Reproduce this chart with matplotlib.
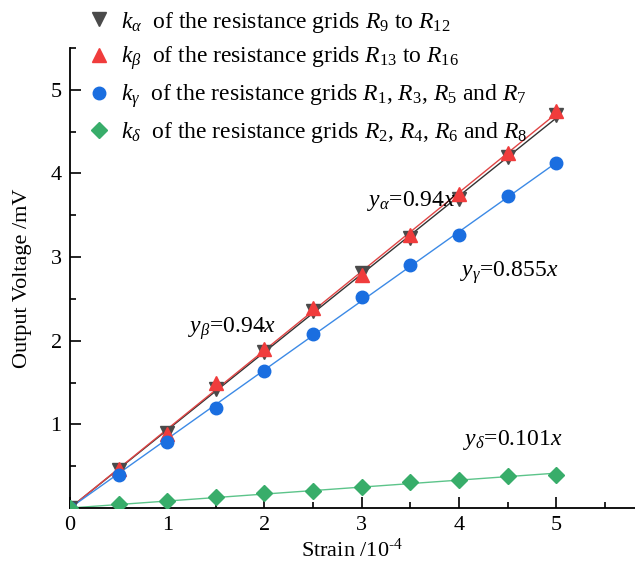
import numpy as np
import matplotlib
matplotlib.use("Agg")
import matplotlib.pyplot as plt
from matplotlib.ticker import MultipleLocator

# strain (1e-4) and measured output voltage (mV)
strain = [0, 0.5, 1, 1.5, 2, 2.5, 3, 3.5, 4, 4.5, 5]
v_alpha = [0, 0.46, 0.90, 1.42, 1.86, 2.35, 2.81, 3.23, 3.69, 4.20, 4.70]
v_beta = [0, 0.47, 0.89, 1.49, 1.90, 2.39, 2.79, 3.27, 3.75, 4.24, 4.75]
v_gamma = [0, 0.39, 0.79, 1.19, 1.64, 2.08, 2.52, 2.90, 3.27, 3.73, 4.13]
v_delta = [0, 0.05, 0.08, 0.13, 0.18, 0.20, 0.25, 0.31, 0.33, 0.38, 0.40]

labels = [r"$k_\alpha$  of the resistance grids $R_9$ to $R_{12}$",
          r"$k_\beta$  of the resistance grids $R_{13}$ to $R_{16}$",
          r"$k_\gamma$  of the resistance grids $R_1$, $R_3$, $R_5$ and $R_7$",
          r"$k_\delta$  of the resistance grids $R_2$, $R_4$, $R_6$ and $R_8$"]
fit_texts = [r"$y_\alpha$=0.94$x$", r"$y_\beta$=0.94$x$",
             r"$y_\gamma$=0.855$x$", r"$y_\delta$=0.101$x$"]
fit_pos = [(3.51, 3.67), (1.67, 2.14), (4.52, 2.81), (4.55, 0.81)]

plt.rcParams['font.family'] = ['Liberation Serif', 'DejaVu Serif']
plt.rcParams['mathtext.fontset'] = 'custom'
plt.rcParams['mathtext.rm'] = 'Liberation Serif'
plt.rcParams['mathtext.it'] = 'Liberation Serif:italic'

fig = plt.figure(figsize=(6.35, 5.65), dpi=100)
ax = fig.add_axes([70/635, 57/565, 565/635, 460/565])

x = np.array(strain)
series = [(v_alpha, '#4a4a4a', '#333333', 'v', 10),
          (v_beta, '#f03c3c', '#e04545', '^', 10),
          (v_gamma, '#1a6ee0', '#3c8ae6', 'o', 9),
          (v_delta, '#38ad6a', '#5cc48a', 'D', 8)]

handles = []
for (y, mc, lc, m, ms), lab in zip(series, labels):
    y = np.array(y)
    k = np.sum(x*y) / np.sum(x*x)
    ax.plot(x, k*x, color=lc, lw=1.0, zorder=2)
    h, = ax.plot(x, y, ls='none', marker=m, ms=ms, color=mc, mec=mc, zorder=3, label=lab)
    handles.append(h)

for t, (tx, ty) in zip(fit_texts, fit_pos):
    ax.text(tx, ty, t, fontsize=17, ha='center', va='center')

ax.set_xlim(0, 5.81)
ax.set_ylim(0, 5.5)
ax.xaxis.set_major_locator(MultipleLocator(1))
ax.xaxis.set_minor_locator(MultipleLocator(0.5))
ax.set_yticks([1, 2, 3, 4, 5])
ax.yaxis.set_minor_locator(MultipleLocator(0.5))
ax.tick_params(which='major', direction='in', length=8, width=1.2, labelsize=16, pad=6)
ax.tick_params(which='minor', direction='in', length=4, width=1.2)
for s in ['top', 'right']:
    ax.spines[s].set_visible(False)
for s in ['left', 'bottom']:
    ax.spines[s].set_linewidth(1.3)

ax.set_xlabel("Strain /10$^{\u20104}$", fontsize=16, labelpad=2)
ax.set_ylabel("Output Voltage /mV", fontsize=16, labelpad=13)

fig.legend(handles=handles, loc='upper left', bbox_to_anchor=(68/635, 1.012),
           frameon=False, fontsize=17, handletextpad=0.35, labelspacing=0.42,
           handlelength=1.2, borderaxespad=0.3)

fig.savefig("out.png", dpi=100)
